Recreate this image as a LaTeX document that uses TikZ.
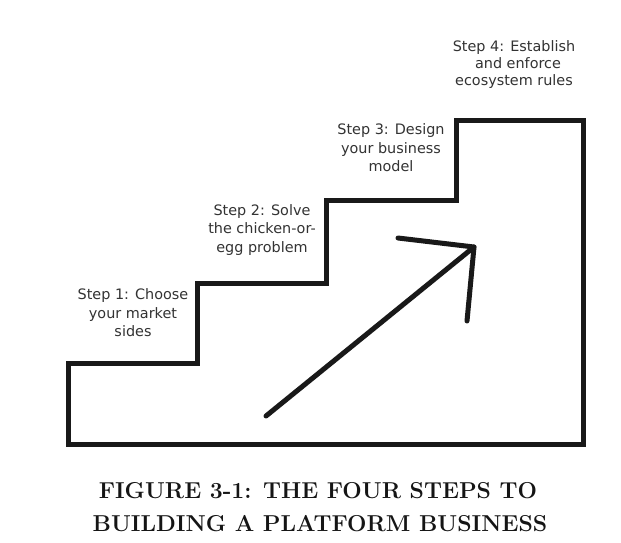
\documentclass[tikz,border=0pt]{standalone}
\usepackage{fontspec}
\newfontfamily\stepfont{DejaVu Sans}
\definecolor{steptext}{HTML}{333333}
\definecolor{captext}{HTML}{151515}
\begin{document}
\begin{tikzpicture}[x=1pt,y=-1pt,
  stair/.style={line width=5pt, line join=miter, draw=black!90},
  arrowline/.style={line width=5pt, line cap=round, line join=round, draw=black!90},
  steplabel/.style={font=\stepfont\fontsize{14.4}{18.5}\selectfont, text=steptext, align=center, inner sep=0pt},
  caption/.style={font=\bfseries\fontsize{23}{33}\selectfont, text=captext, anchor=base, inner sep=0pt}]
\useasboundingbox (0,0) rectangle (621,542);
\fill[white] (0,0) rectangle (621,542);
% stair outline
\coordinate (a) at (68,444);
\coordinate (b) at (68,363);
\coordinate (c) at (197,363);
\coordinate (d) at (197,283);
\coordinate (e) at (326,283);
\coordinate (f) at (326,200);
\coordinate (g) at (456,200);
\coordinate (h) at (456,120);
\coordinate (i) at (583,120);
\coordinate (j) at (583,444);
\draw[stair] (a) -- (b) -- (c) -- (d) -- (e) -- (f) -- (g) -- (h) -- (i) -- (j) -- cycle;
% arrow
\coordinate (t0) at (266,416);
\coordinate (tip) at (474,247);
\coordinate (w1) at (398,238);
\coordinate (w2) at (467,321);
\draw[arrowline] (t0) -- (tip);
\draw[arrowline] (w1) -- (tip) -- (w2);
% labels
\node[steplabel] (s1) at (133,313) {Step 1: Choose\\your market\\sides};
\node[steplabel] (s2) at (262,230) {Step 2: Solve\\the chicken-or-\\egg problem};
\node[steplabel] (s3) at (391,148) {Step 3: Design\\your business\\model};
\node[steplabel, font=\stepfont\fontsize{14.4}{17}\selectfont] (s4) at (514,65) {Step 4: Establish\\\hspace*{8pt}and enforce\\ecosystem rules};
% caption
\node[caption] (cap1) at (318,498) {FIGURE 3-1: THE FOUR STEPS TO};
\node[caption] (cap2) at (320,531) {BUILDING A PLATFORM BUSINESS};
\end{tikzpicture}
\end{document}
